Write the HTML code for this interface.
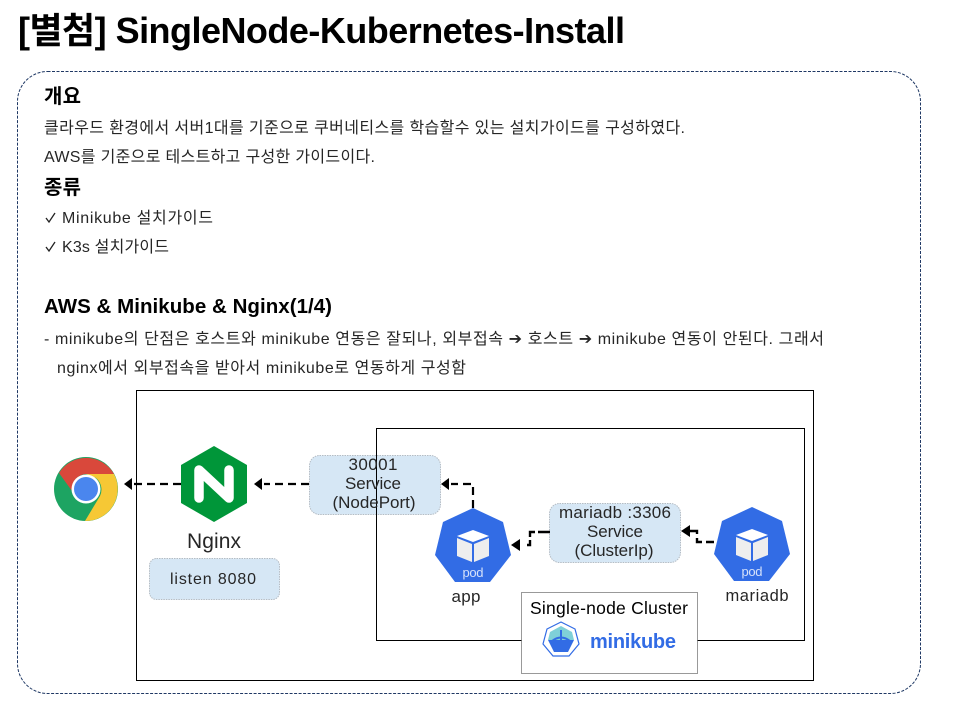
<!DOCTYPE html>
<html lang="ko">
<head>
<meta charset="utf-8">
<title>[별첨] SingleNode-Kubernetes-Install</title>
<style>
html,body{margin:0;padding:0;background:#fff;width:960px;height:720px;overflow:hidden}
svg{display:block}
text{font-family:"Liberation Sans","Noto Sans CJK KR",sans-serif;fill:#262626}
.b{font-weight:700;fill:#000}
.m{text-anchor:middle}
.svc{fill:#d6e7f5;stroke:#b4bcc4;stroke-width:1;stroke-dasharray:1.5 1}
.dash{fill:none;stroke:#000;stroke-width:2.2;stroke-dasharray:8 5}
.seg{fill:none;stroke:#000;stroke-width:2.4}
</style>
</head>
<body>
<svg width="960" height="720" viewBox="0 0 960 720" xmlns="http://www.w3.org/2000/svg">
<defs>
<g id="pod">
  <polygon points="473,508 503,522 511,555 490,582 455,582 435,555 443,522" fill="#326ce5"/>
  <polygon points="473,530 489,536 473,542 457,536" fill="#fff"/>
  <polygon points="457,538 472,544 472,562 457,556" fill="#eee"/>
  <polygon points="489,538 474,544 474,562 489,556" fill="#eee"/>
  <text x="473" y="577" class="m" font-size="13" textLength="21" style="fill:#d5e1fa">pod</text>
</g>
</defs>

<text x="18" y="43" class="b" font-size="36" textLength="607" lengthAdjust="spacing">[별첨] SingleNode-Kubernetes-Install</text>

<rect x="17.5" y="71.5" width="903" height="622" rx="30" ry="30" fill="#fff" stroke="#1f3864" stroke-width="1" stroke-dasharray="3 1.5"/>

<text x="44" y="103" class="b" font-size="20" textLength="37">개요</text>
<text x="44" y="133" font-size="16" textLength="641" lengthAdjust="spacing">클라우드 환경에서 서버1대를 기준으로 쿠버네티스를 학습할수 있는 설치가이드를 구성하였다.</text>
<text x="44" y="162" font-size="16" textLength="331" lengthAdjust="spacing">AWS를 기준으로 테스트하고 구성한 가이드이다.</text>
<text x="44" y="194" class="b" font-size="20" textLength="37">종류</text>
<path d="M46 218 L49 222 L55 213 M46 247 L49 251 L55 242" fill="none" stroke="#222" stroke-width="1.3"/>
<text x="62" y="223" font-size="16" textLength="151" lengthAdjust="spacing">Minikube 설치가이드</text>
<text x="62" y="252" font-size="16" textLength="107" lengthAdjust="spacing">K3s 설치가이드</text>
<text x="44" y="313" class="b" font-size="20.5" textLength="288" lengthAdjust="spacing">AWS &amp; Minikube &amp; Nginx(1/4)</text>
<text x="44" y="344" font-size="16" textLength="780" lengthAdjust="spacing">- minikube의 단점은 호스트와 minikube 연동은 잘되나, 외부접속 ➔ 호스트 ➔ minikube 연동이 안된다.  그래서</text>
<text x="57" y="373" font-size="16" textLength="409" lengthAdjust="spacing">nginx에서 외부접속을 받아서 minikube로 연동하게 구성함</text>

<!-- service boxes under frames -->
<rect x="309.5" y="455.5" width="131" height="59" rx="10" class="svc"/>
<rect x="549.5" y="503.5" width="131" height="59" rx="10" class="svc"/>
<rect x="149.5" y="558.5" width="130" height="41" rx="7" class="svc"/>

<!-- frames -->
<rect x="136.5" y="390.5" width="677" height="290" fill="none" stroke="#000" stroke-width="1"/>
<rect x="376.5" y="428.5" width="428" height="212" fill="none" stroke="#000" stroke-width="1"/>

<!-- chrome -->
<circle cx="86" cy="489" r="32" fill="#1da462"/>
<path d="M59 473 A32 32 0 0 1 114 474 L86 474 A15 15 0 0 0 72 491 Z" fill="#d9483b"/>
<path d="M114 474 A32 32 0 0 1 85 521 L100 496 A15 15 0 0 0 96 478 L86 474 Z" fill="#f6c835"/>
<circle cx="86" cy="489" r="14.5" fill="#fff"/>
<circle cx="86" cy="489" r="12" fill="#4a86ee"/>

<!-- nginx -->
<polygon points="214,446 247,465 247,503 214,522 181,503 181,465" fill="#009639"/>
<path d="M199 498 V470 L229 498 V470" fill="none" stroke="#fff" stroke-width="9.5" stroke-linecap="round" stroke-linejoin="round"/>
<text x="214" y="548" class="m" font-size="21" textLength="54">Nginx</text>
<text x="213" y="584" class="m" font-size="16" textLength="86">listen 8080</text>

<!-- pods -->
<use href="#pod"/>
<use href="#pod" x="279" y="-1"/>
<text x="466" y="602" class="m" font-size="17" textLength="29">app</text>
<text x="757" y="601" class="m" font-size="16.5" textLength="63">mariadb</text>

<!-- service text -->
<text x="373" y="470" class="m" font-size="17" textLength="49">30001</text>
<text x="373" y="489" class="m" font-size="17" textLength="56">Service</text>
<text x="374" y="508" class="m" font-size="17" textLength="83">(NodePort)</text>
<text x="615" y="518" class="m" font-size="17" textLength="112">mariadb :3306</text>
<text x="615" y="537" class="m" font-size="17" textLength="56">Service</text>
<text x="614" y="556" class="m" font-size="17" textLength="79">(ClusterIp)</text>

<!-- connectors -->
<path d="M181 484 H134" class="dash"/>
<polygon points="124,484 132,478 132,490" fill="#000"/>
<path d="M309 484 H264" class="dash"/>
<polygon points="254,484 262,478 262,490" fill="#000"/>
<path d="M473 508 V484 H451" class="dash"/>
<polygon points="441,484 449,478 449,490" fill="#000"/>
<path d="M550 532 H538 M535 532 H530 V537 M530 540 V545 H527" class="seg"/>
<polygon points="511,545 520,539 520,551" fill="#000"/>
<path d="M714 542 H706 M702 542 H697 V538 M697 534 V531 H689" class="seg"/>
<polygon points="681,531 690,525 690,537" fill="#000"/>

<!-- cluster label -->
<rect x="521.5" y="592.5" width="176" height="81" fill="#fff" stroke="#333" stroke-width="1" stroke-dasharray="1 1"/>
<text x="609" y="614" class="m" font-size="17.5" textLength="158" style="fill:#000">Single-node Cluster</text>
<polygon points="561,622 575,629 579,644 569,656 553,656 543,644 547,629" fill="#fff" stroke="#326ce5" stroke-width="1.2"/>
<polygon points="561,626 572,632 574,640 548,640 550,632" fill="#7fd0d8"/>
<polygon points="548,640 574,640 568,652 554,652" fill="#326ce5"/>
<path d="M561 630 V652 M552 641 Q561 634 570 641" stroke="#326ce5" stroke-width="2" fill="none"/>
<text x="590" y="648" font-size="20" font-weight="700" textLength="86" lengthAdjust="spacing" style="fill:#326ce5">minikube</text>
</svg>
</body>
</html>
